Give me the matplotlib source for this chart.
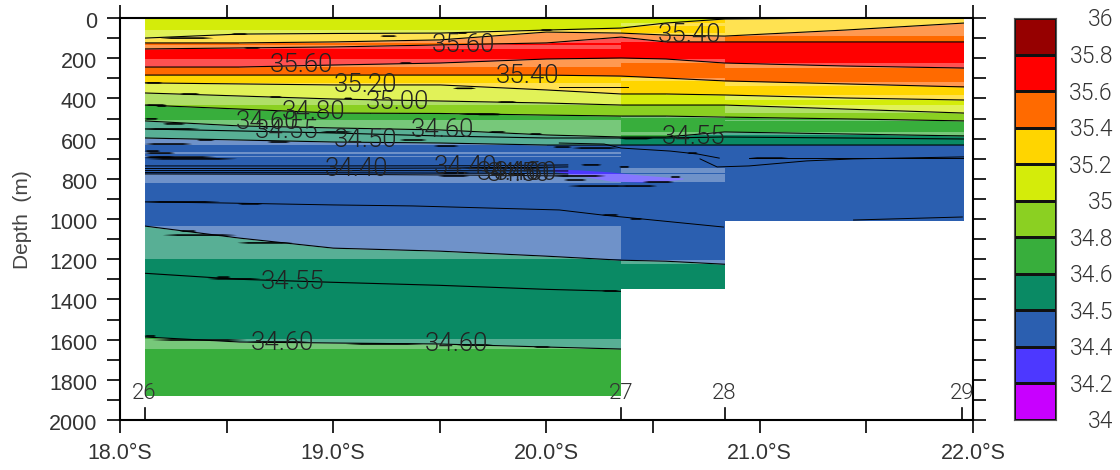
import matplotlib
matplotlib.use("Agg")
import matplotlib.pyplot as plt
import numpy as np
from matplotlib.colors import ListedColormap
from matplotlib.patches import Polygon
from matplotlib.transforms import blended_transform_factory, ScaledTranslation

plt.rcParams['font.family'] = ['Liberation Sans', 'DejaVu Sans']

# ---------- data ----------
grid_lon = [18.115, 18.56, 19.0, 19.5, 20.0, 20.35, 20.56, 20.835, 21.4, 21.96]
c352a = [100, 80, 77, 75, 60, 50, 25, 5, 0, 0]
c354a = [124, 124, 119, 109, 70, 75, 85, 90, 60, 25]
c356a = [154, 149, 144, 134, 124, 95, 119, 119, 119, 119]
c356b = [244, 244, 234, 224, 204, 199, 204, 224, 239, 249]
c354b = [284, 284, 284, 284, 284, 289, 299, 313, 328, 343]
c352b = [323, 328, 333, 333, 358, 378, 378, 383, 398, 408]
c350 = [373, 388, 403, 413, 423, 433, 433, 433, 453, 473]
c348 = [433, 453, 473, 475, 483, 488, 488, 493, 502, 512]
c346 = [512, 537, 547, 557, 582, 592, 592, 567, 577, 587]
c3455 = [552, 562, 572, 587, 597, 597, 597, 592, 597, 602]
c345 = [597, 607, 617, 622, 632, 632, 632, 632, 632, 632]
c345b = [1035, 1095, 1145, 1160, 1185, 1205, 1210, 1225, 1230, 1230]
c3455b = [1270, 1300, 1315, 1330, 1350, 1360, 1370, 1380, 1390, 1400]
c346b = [1587, 1612, 1617, 1622, 1637, 1647, 1650, 1650, 1650, 1650]
surface = [0] * 10
deep = [2000] * 10

col_dred = '#960000'
col_red = '#ff0000'
col_orange = '#ff6a00'
col_gold = '#ffd500'
col_yg = '#d4ec0a'
col_lime = '#8bd022'
col_green = '#38ae3c'
col_teal = '#0a8a64'
col_blue = '#2b5fb0'
col_violet = '#4d38ff'
col_purple = '#c800ff'

layers = [
    (surface, c352a, col_yg), (c352a, c354a, col_gold), (c354a, c356a, col_orange),
    (c356a, c356b, col_red), (c356b, c354b, col_orange), (c354b, c352b, col_gold),
    (c352b, c350, col_yg), (c350, c348, col_lime), (c348, c346, col_green),
    (c346, c345, col_teal), (c345, c345b, col_blue), (c345b, c346b, col_teal),
    (c346b, deep, col_green),
]

vio_lon = [20.03, 20.16, 20.30, 20.44, 20.56, 20.64]
vio_top = [751, 756, 766, 781, 791, 796]
vio_bot = [761, 786, 811, 816, 811, 801]

section_edges = [18.115, 20.35, 20.835, 21.96]
section_bottom = [1880, 1350, 1010]

light_rows = [
    [(60, 124), (134, 154), (204, 244), (323, 433), (507, 632), (667, 675), (687, 692), (776, 820), (1035, 1200), (1597, 1647)],
    [(25, 40), (75, 120), (204, 224), (299, 313), (488, 498), (567, 582), (746, 771), (776, 816), (1205, 1225)],
    [(5, 25), (25, 90), (224, 249), (318, 338), (383, 408), (433, 473), (505, 512), (567, 582)],
]

extra_lines = [
    ([20.06, 20.27, 20.35, 20.58, 20.71, 20.81], [622, 627, 647, 662, 677, 697]),
    ([20.72, 20.80, 20.95, 21.22, 21.44, 21.96], [701, 741, 736, 711, 701, 691]),
    ([20.95, 21.96], [697, 697]),
    ([18.115, 18.47, 19.0, 19.37, 20.06, 20.26, 20.45, 20.83], [915, 920, 930, 935, 955, 980, 1000, 1040]),
    ([21.44, 21.95], [1005, 990]),
    ([20.06, 20.38], [343, 343]),
    ([18.115, 19.0, 19.7, 20.1], [736, 736, 735, 731]),
    ([18.115, 19.0, 19.7, 20.1], [749, 748, 746, 741]),
    ([18.115, 19.0, 19.7, 20.1], [759, 759, 760, 761]),
    ([18.115, 19.0, 19.7, 20.1], [769, 770, 772, 776]),
    ([18.115, 19.0, 19.7, 20.1], [776, 778, 782, 786]),
]

dashes = [
    (18.19, 18.44, 100), (18.52, 18.60, 80), (19.22, 19.30, 90), (19.58, 19.63, 75), (19.97, 20.03, 60),
    (18.58, 18.66, 149), (19.31, 19.37, 224), (19.56, 19.67, 350), (19.77, 19.86, 418), (19.66, 19.80, 480),
    (19.05, 19.09, 400), (18.70, 18.76, 393), (18.115, 18.20, 323), (18.28, 18.375, 378), (18.17, 18.22, 438),
    (18.115, 18.22, 433), (18.115, 18.18, 502), (18.20, 18.31, 527), (18.115, 18.375, 552), (18.36, 18.445, 607),
    (18.69, 18.80, 617), (18.115, 18.34, 627), (18.115, 18.19, 662), (18.115, 18.26, 672), (18.115, 18.26, 692),
    (18.115, 18.455, 692), (18.115, 18.55, 701), (18.94, 19.09, 567), (19.31, 19.44, 607), (19.47, 19.59, 637),
    (19.49, 19.64, 771), (19.49, 19.64, 786), (19.59, 19.79, 478), (19.73, 19.81, 567),
    (19.92, 19.98, 577), (20.16, 20.26, 731), (20.03, 20.12, 642), (20.12, 20.34, 647), (20.08, 20.19, 806),
    (20.03, 20.28, 786), (20.10, 20.39, 836), (19.59, 20.03, 746), (20.34, 20.50, 600), (20.58, 20.63, 791),
    (20.66, 20.71, 672), (20.95, 21.14, 697), (20.45, 20.60, 816), (20.34, 20.52, 836), (20.34, 20.39, 741),
    (20.26, 20.34, 980), (20.39, 20.45, 1000), (20.26, 20.34, 1358), (18.115, 18.47, 915), (18.55, 18.67, 925),
    (18.28, 18.36, 1060), (18.20, 18.55, 1080), (18.55, 18.81, 1119), (18.41, 18.66, 1298), (18.45, 18.52, 1289),
    (18.15, 18.595, 1602), (18.595, 18.89, 1612), (19.06, 19.42, 1622), (19.58, 19.75, 1627), (19.94, 20.02, 1637),
    (18.115, 18.17, 1582),
]

contour_labels = [
    ('35.60', 19.61, 134), ('35.40', 20.67, 85), ('35.60', 18.85, 234), ('35.20', 19.15, 333),
    ('35.40', 19.91, 289), ('35.00', 19.30, 418), ('34.80', 18.91, 468), ('34.60', 18.69, 517),
    ('34.55', 18.78, 562), ('34.50', 19.15, 607), ('34.60', 19.51, 557), ('34.55', 20.69, 592),
    ('34.40', 19.11, 751), ('34.40', 19.62, 741), ('34.40', 19.82, 771), ('34.50', 19.87, 776),
    ('34.60', 19.90, 771), ('34.55', 18.81, 1313), ('34.60', 18.76, 1617), ('34.60', 19.58, 1622),
]

station_lon = [18.115, 20.35, 20.835, 21.95]
station_name = ['26', '27', '28', '29']

x_ticks = [18.0, 18.5, 19.0, 19.5, 20.0, 20.5, 21.0, 21.5, 22.0]
x_labels = ['18.0°S', '', '19.0°S', '', '20.0°S', '', '21.0°S', '', '22.0°S']
y_ticks = list(range(0, 2001, 100))
y_labels = [str(v) if v % 200 == 0 else '' for v in y_ticks]

cbar_colors = [col_purple, col_violet, col_blue, col_teal, col_green, col_lime, col_yg,
               col_gold, col_orange, col_red, col_dred]
cbar_labels = ['34', '34.2', '34.4', '34.5', '34.6', '34.8', '35', '35.2', '35.4', '35.6', '35.8', '36']

# ---------- figure ----------
W, H = 1120, 470
THIN = dict(family=['Roboto', 'DejaVu Sans'], fontweight=300)
fig = plt.figure(figsize=(W / 100, H / 100), dpi=100)
ax = fig.add_axes([120 / W, (H - 420) / H, (973 - 120) / W, 402 / H])
ax.set_xlim(18, 22)
ax.set_ylim(2000, 0)

clip_x, clip_y = [], []
for i, b in enumerate(section_bottom):
    clip_x += [section_edges[i], section_edges[i + 1]]
    clip_y += [b, b]
clip_poly = Polygon(list(zip([section_edges[0]] + clip_x + [section_edges[-1]],
                             [0] + clip_y + [0])), closed=True,
                    transform=ax.transData, fc='none', ec='none')
ax.add_patch(clip_poly)

for top, bot, col in layers:
    fc = ax.fill_between(grid_lon, top, bot, color=col, lw=0, zorder=1)
    fc.set_clip_path(clip_poly)
ax.fill_between(vio_lon, vio_top, vio_bot, color=col_violet, lw=0, zorder=1.1)

for i, rows in enumerate(light_rows):
    for r0, r1 in rows:
        ax.fill_between([section_edges[i], section_edges[i + 1]], r0, r1,
                        color='white', alpha=0.32, lw=0, zorder=2)

line_col = '#000000'
for arr in [c352a, c354a, c356a, c356b, c354b, c352b, c350, c348, c346, c3455, c345, c345b, c3455b, c346b]:
    ln, = ax.plot(grid_lon, arr, color=line_col, lw=0.8, zorder=3)
    ln.set_clip_path(clip_poly)
for lon, dep in extra_lines:
    ln, = ax.plot(lon, dep, color=line_col, lw=0.7, zorder=3)
    ln.set_clip_path(clip_poly)
for x0, x1, d in dashes:
    e = (x1 - x0) * 0.2
    ax.fill([x0, x0 + e, x1 - e, x1, x1 - e, x0 + e], [d, d - 4, d - 4, d, d + 4, d + 4],
            color=line_col, lw=0, zorder=3)

for txt, lon, d in contour_labels:
    ax.text(lon, d, txt, fontsize=18.6, color='#222222', ha='center', va='center', zorder=4, **THIN)

for lon, name in zip(station_lon, station_name):
    ax.plot([lon, lon], [1940, 2000], color='black', lw=1.2, zorder=4)
    ax.text(lon, 1866, name, fontsize=16, color='#333333', ha='center', va='center', zorder=4, **THIN)

ax.set_xticks(x_ticks)
ax.set_xticklabels(x_labels, fontsize=15.5, color='#333333')
ax.set_yticks(y_ticks)
ax.set_yticklabels(y_labels, fontsize=15.5, color='#333333')
ax.tick_params(axis='both', direction='out', length=9.4, width=1.2, color='black',
               top=True, right=True, labeltop=False, labelright=False)
ax.tick_params(axis='x', pad=7.5)
ax.tick_params(axis='y', pad=7)
shift = ScaledTranslation(0, -2 / 100, fig.dpi_scale_trans)
for lab in ax.get_yticklabels():
    lab.set_transform(lab.get_transform() + shift)
for s in ax.spines.values():
    s.set_linewidth(1.5)
fig.text(23 / W, (H - 220) / H, 'Depth  (m)', rotation=90, fontsize=15, color='#444444',
         ha='center', va='center')

cax = fig.add_axes([1014 / W, (H - 420) / H, 42 / W, 402 / H])
n = len(cbar_colors)
cax.pcolormesh([0, 1], np.arange(n + 1), np.arange(n).reshape(-1, 1),
               cmap=ListedColormap(cbar_colors), edgecolors='#111111', linewidth=0.8)
cax.set_xticks([])
cax.set_yticks([])
for s in cax.spines.values():
    s.set_linewidth(0.8)
    s.set_color('#555555')
tr = blended_transform_factory(cax.transAxes, cax.transData) + shift
for i, t in enumerate(cbar_labels):
    cax.text(99 / 42, i, t, transform=tr, ha='right', va='center', fontsize=16.5, color='#333333', **THIN)

fig.savefig('out.png', dpi=100)
